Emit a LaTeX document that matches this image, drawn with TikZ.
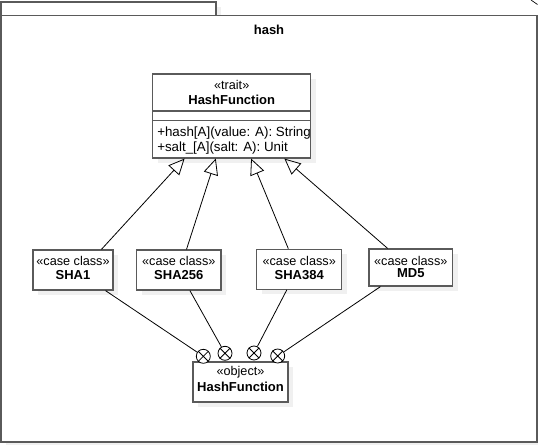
\documentclass[tikz,border=0pt]{standalone}
\usepackage{fontspec}
\setmainfont{Liberation Sans}
\usetikzlibrary{arrows.meta,calc,shadows}
\definecolor{bordergray}{RGB}{90,90,90}
\definecolor{shadowgray}{RGB}{240,240,240}
\tikzset{
  x=0.75pt, y=-0.75pt,
  umlbox/.style={draw=bordergray, line width=0.9pt, fill=white, inner sep=0pt,
    drop shadow={shadow xshift=3.75pt, shadow yshift=-3.75pt, fill=shadowgray, opacity=1}},
  stereo/.style={inner sep=0pt, font=\fontsize{9.5pt}{11pt}\selectfont},
  cname/.style={inner sep=0pt, font=\fontsize{9.75pt}{11pt}\selectfont\bfseries},
  method/.style={inner sep=0pt, anchor=west, font=\fontsize{10pt}{12pt}\selectfont},
  conn/.style={draw=black, line width=0.6pt},
  gen/.style={draw=black, line width=0.6pt, -{Triangle[open, length=12pt, width=11pt]}},
  contain/.style={circle, draw=black, line width=0.6pt, fill=white, minimum size=10.5pt, inner sep=0pt},
}
\begin{document}
\begin{tikzpicture}
\useasboundingbox (0,0) rectangle (538,445);
% package frame
\fill[shadowgray] (6,7) rectangle (221,20.5);
\fill[shadowgray] (6,20.5) rectangle (542,447);
\draw[draw=bordergray, line width=1.1pt, fill=white] (1,2) rectangle (216,15.5);
\draw[draw=bordergray, line width=1.1pt, fill=white] (1,15.5) rectangle (537,442);
\draw[draw=black, line width=0.5pt] (531,0) -- (537.5,4.5);
\node[cname] (pkg) at (269,30) {hash};

% trait
\node[umlbox, minimum width=118.5pt, minimum height=63pt] (trait) at (231.7,116) {};
\draw[draw=bordergray, line width=0.9pt] ($(trait.north west)+(0,37.7)$) -- ($(trait.north east)+(0,37.7)$);
\draw[draw=bordergray, line width=0.9pt] ($(trait.north west)+(0,47)$) -- ($(trait.north east)+(0,47)$);
\node[stereo] (traits) at (231.7,85) {«trait»};
\node[cname] (traitn) at (231.7,100) {HashFunction};
\node[method] (m1) at (157,132.7) {+hash[A](value: A): String};
\node[method] (m2) at (157,148.3) {+salt\_[A](salt: A): Unit};

% case classes
\node[umlbox, minimum width=60pt, minimum height=30pt] (sha1) at (73,270) {};
\node[stereo] (sha1s) at (73,260.7) {«case class»};
\node[cname] (sha1n) at (73,275) {SHA1};

\node[umlbox, minimum width=63.2pt, minimum height=30pt] (sha256) at (178.8,270) {};
\node[stereo] (sha256s) at (178.8,260.7) {«case class»};
\node[cname] (sha256n) at (178.8,275) {SHA256};

\node[umlbox, minimum width=63.75pt, minimum height=30pt] (sha384) at (299.2,269.3) {};
\node[stereo] (sha384s) at (299.2,260.7) {«case class»};
\node[cname] (sha384n) at (299.2,275) {SHA384};

\node[umlbox, minimum width=62.8pt, minimum height=27.75pt] (md5) at (410.8,267.5) {};
\node[stereo] (md5s) at (410.8,260.7) {«case class»};
\node[cname] (md5n) at (410.8,273.5) {MD5};

% object
\node[umlbox, minimum width=71.25pt, minimum height=30pt] (obj) at (240.5,382) {};
\node[stereo] (objs) at (240.5,372) {«object»};
\node[cname] (objn) at (240.5,387) {HashFunction};

% generalizations
\draw[gen] ($(sha1.north west)!0.85!(sha1.north east)$) -- ($(trait.south west)!0.204!(trait.south east)$);
\draw[gen] ($(sha256.north west)!0.59!(sha256.north east)$) -- ($(trait.south west)!0.40!(trait.south east)$);
\draw[gen] ($(sha384.north west)!0.374!(sha384.north east)$) -- ($(trait.south west)!0.622!(trait.south east)$);
\draw[gen] ($(md5.north west)!0.227!(md5.north east)$) -- ($(trait.south west)!0.831!(trait.south east)$);

% containment circles
\node[contain] (c1) at (203.3,356.3) {};
\node[contain] (c2) at (225,353.3) {};
\node[contain] (c3) at (254,353) {};
\node[contain] (c4) at (277.7,356) {};
\foreach \c in {c1,c2,c3,c4} {
  \draw[line width=0.6pt] (\c.45) -- (\c.225) (\c.135) -- (\c.315);
}
\draw[conn] ($(sha1.south west)!0.9!(sha1.south east)$) -- (c1);
\draw[conn] ($(sha256.south west)!0.63!(sha256.south east)$) -- (c2);
\draw[conn] ($(sha384.south west)!0.356!(sha384.south east)$) -- (c3);
\draw[conn] ($(md5.south west)!0.143!(md5.south east)$) -- (c4);
\end{tikzpicture}
\end{document}
